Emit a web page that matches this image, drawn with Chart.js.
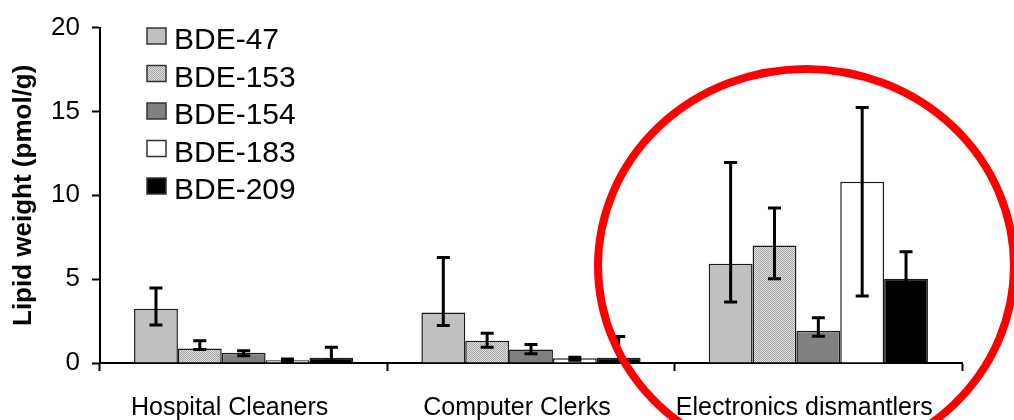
<!DOCTYPE html>
<html><head><meta charset="utf-8">
<script src="https://cdn.jsdelivr.net/npm/chart.js@4.4.1/dist/chart.umd.min.js"></script>
<style>html,body{margin:0;padding:0;background:#fff;overflow:hidden;} #wrap{width:1014px;height:420px;position:relative;}</style>
</head><body><div id="wrap"><canvas id="c" width="1014" height="420"></canvas></div>
<script>
// ---- data ----
const categories = ['Hospital Cleaners', 'Computer Clerks', 'Electronics dismantlers'];
const seriesNames = ['BDE-47', 'BDE-153', 'BDE-154', 'BDE-183', 'BDE-209'];
const bde47  = [3.23, 3.01, 5.92];
const bde153 = [0.87, 1.32, 7.00];
const bde154 = [0.61, 0.81, 1.93];
const bde183 = [0.16, 0.28, 10.81];
const bde209 = [0.31, 0.31, 5.03];
const bde47High  = [4.47, 6.29, 11.96];
const bde47Low   = [2.26, 2.24, 3.64];
const bde153High = [1.32, 1.77, 9.25];
const bde153Low  = [0.81, 0.94, 5.03];
const bde154High = [0.73, 1.10, 2.70];
const bde154Low  = [0.43, 0.55, 1.59];
const bde183High = [0.24, 0.35, 15.24];
const bde183Low  = [0.08, 0.16, 3.99];
const bde209High = [0.94, 1.58, 6.63];
const bde209Low  = [0.10, 0.10, 3.50];
const yTicks = [0, 5, 10, 15, 20];
const yTitle = 'Lipid weight (pmol/g)';

Chart.defaults.font.family = 'Arial, "Liberation Sans", sans-serif';
Chart.defaults.color = '#000';

const canvas = document.getElementById('c');
const ctx0 = canvas.getContext('2d');
// stipple pattern for BDE-153
const pc = document.createElement('canvas');
pc.width = 2; pc.height = 2;
const pctx = pc.getContext('2d');
pctx.fillStyle = '#dedede'; pctx.fillRect(0, 0, 2, 2);
pctx.fillStyle = '#a6a6a6'; pctx.fillRect(0, 0, 1, 1); pctx.fillRect(1, 1, 1, 1);
const stipple = ctx0.createPattern(pc, 'repeat');

const fills = ['#c0c0c0', stipple, '#808080', '#ffffff', '#000000'];
const values = [bde47, bde153, bde154, bde183, bde209];
const highs = [bde47High, bde153High, bde154High, bde183High, bde209High];
const lows = [bde47Low, bde153Low, bde154Low, bde183Low, bde209Low];

const datasets = seriesNames.map((n, i) => ({
  label: n,
  data: values[i],
  errHigh: highs[i],
  errLow: lows[i],
  backgroundColor: fills[i],
  borderColor: '#1a1a1a',
  borderWidth: 1.5,
  categoryPercentage: 0.763,
  barPercentage: 1.0
}));

const errorBars = {
  id: 'errorBars',
  afterDatasetsDraw(chart) {
    const ctx = chart.ctx;
    const ys = chart.scales.y;
    ctx.save();
    ctx.strokeStyle = '#000';
    ctx.lineWidth = 3;
    chart.data.datasets.forEach((ds, i) => {
      const meta = chart.getDatasetMeta(i);
      meta.data.forEach((el, j) => {
        const x = el.x;
        const yh = ys.getPixelForValue(ds.errHigh[j]);
        const yl = ys.getPixelForValue(ds.errLow[j]);
        ctx.beginPath();
        ctx.moveTo(x, yh); ctx.lineTo(x, yl);
        ctx.moveTo(x - 6.5, yh); ctx.lineTo(x + 6.5, yh);
        ctx.moveTo(x - 6.5, yl); ctx.lineTo(x + 6.5, yl);
        ctx.stroke();
      });
    });
    ctx.restore();
  }
};

const boxLegend = {
  id: 'boxLegend',
  afterDraw(chart) {
    const ctx = chart.ctx;
    ctx.save();
    ctx.font = '30px Arial, "Liberation Sans", sans-serif';
    ctx.textBaseline = 'middle';
    ctx.textAlign = 'left';
    chart.data.datasets.forEach((ds, i) => {
      const cy = 36 + i * 37.5;
      ctx.fillStyle = ds.backgroundColor;
      ctx.fillRect(147, cy - 8, 19, 16);
      ctx.strokeStyle = '#333';
      ctx.lineWidth = 1.5;
      ctx.strokeRect(147, cy - 8, 19, 16);
      ctx.fillStyle = '#000';
      ctx.fillText(ds.label, 174, cy + 5);
    });
    ctx.restore();
  }
};

const ellipseMark = {
  id: 'ellipseMark',
  afterDraw(chart) {
    const ctx = chart.ctx;
    ctx.save();
    ctx.strokeStyle = '#ff0000';
    ctx.lineWidth = 8;
    ctx.beginPath();
    ctx.ellipse(806, 266, 208, 197, 0, 0, Math.PI * 2);
    ctx.stroke();
    ctx.restore();
  }
};

new Chart(canvas, {
  type: 'bar',
  data: { labels: categories, datasets },
  options: {
    responsive: false,
    animation: false,
    devicePixelRatio: 1,
    layout: { padding: { left: 0, top: 24, right: 52, bottom: 0 } },
    plugins: { legend: { display: false }, tooltip: { enabled: false } },
    scales: {
      x: {
        offset: true,
        afterFit(s) { s.height = 57; },
        grid: { display: true, offset: true, drawOnChartArea: false, tickLength: 8, tickWidth: 2, tickColor: '#000' },
        border: { display: true, color: '#000', width: 2 },
        ticks: { font: { size: 25 }, padding: 22, labelOffset: -14, color: '#000', maxRotation: 0, autoSkip: false }
      },
      y: {
        min: 0, max: 20,
        afterFit(s) { s.width = 100; },
        afterBuildTicks(s) { s.ticks = yTicks.map(v => ({ value: v })); },
        grid: { display: true, drawOnChartArea: false, tickLength: 8, tickWidth: 2, tickColor: '#000' },
        border: { display: true, color: '#000', width: 2 },
        ticks: { font: { size: 26 }, padding: 12, color: '#000' },
        title: { display: true, text: yTitle, font: { size: 26, weight: 'bold' }, padding: { top: 8, bottom: 0 }, color: '#000' }
      }
    }
  },
  plugins: [errorBars, boxLegend, ellipseMark]
});
</script>
</body></html>
